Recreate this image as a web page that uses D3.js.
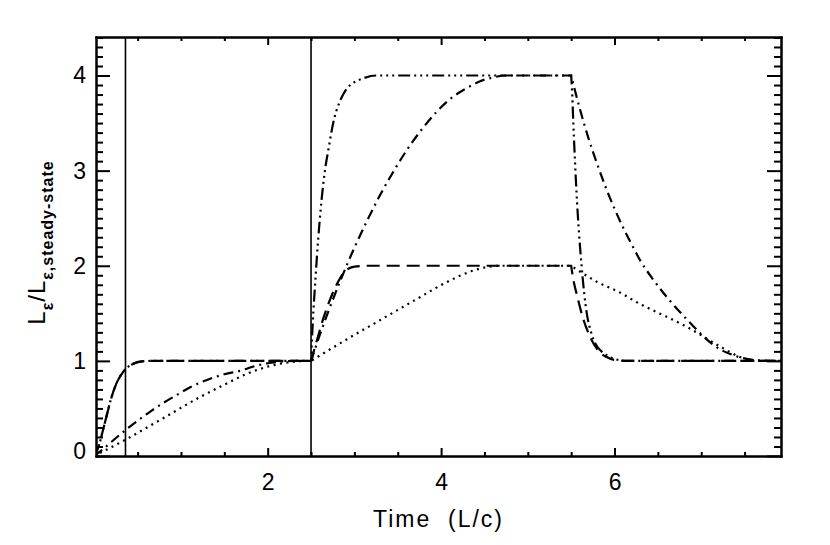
<!DOCTYPE html>
<html>
<head>
<meta charset="utf-8">
<script src="https://cdn.jsdelivr.net/npm/d3@7"></script>
<style>
  body { margin: 0; background: #fff; }
  svg { display: block; }
  .axis path, .axis line { stroke: #000; stroke-width: 2; }
  .axis text { font-family: "Liberation Sans", Arial, sans-serif; font-size: 23px; fill: #000; }
</style>
</head>
<body>
<svg id="chart" width="830" height="545"></svg>
<script>
// ---- data (time in L/c, luminosity ratio) ----
const breaks = [2.5, 5.5];          // times where the injection changes
const markerTimes = [0.36, 2.5];    // vertical reference lines

const xMajorTicks = [2, 4, 6];
const yMajorTicks = [0, 1, 2, 3, 4];

// dashed: fast response, up to 2
const dashedT = [0, 0.05, 0.1, 0.15, 0.2, 0.25, 0.3, 0.357, 0.45, 0.55, 0.7, 2.5,
                 2.5, 2.55, 2.6, 2.65, 2.7, 2.8, 2.9, 3.0, 3.15, 5.5,
                 5.5, 5.52, 5.57, 5.62, 5.72, 5.81, 5.91, 6.0, 6.15, 7.95];
const dashedV = [0, 0.1, 0.27, 0.45, 0.62, 0.75, 0.84, 0.91, 0.97, 0.995, 1, 1,
                 1, 1.16, 1.32, 1.47, 1.6, 1.81, 1.95, 1.99, 2, 2,
                 2, 1.88, 1.68, 1.5, 1.25, 1.11, 1.04, 1.01, 1, 1];

// dash-dot-dot-dot: fast response, up to 4
const dash3dotT = [0, 0.05, 0.1, 0.15, 0.2, 0.25, 0.3, 0.357, 0.45, 0.55, 0.7, 2.5,
                   2.5, 2.52, 2.55, 2.58, 2.62, 2.66, 2.7, 2.76, 2.82, 2.87, 2.93, 3.0, 3.1, 3.25, 5.5,
                   5.5, 5.51, 5.525, 5.56, 5.62, 5.68, 5.73, 5.78, 5.85, 5.91, 6.0, 6.15, 7.95];
const dash3dotV = [0, 0.1, 0.27, 0.45, 0.62, 0.75, 0.84, 0.91, 0.97, 0.995, 1, 1,
                   1, 1.4, 1.85, 2.25, 2.68, 3.0, 3.22, 3.52, 3.7, 3.8, 3.88, 3.93, 3.97, 4, 4,
                   4, 3.85, 3.5, 2.8, 2.0, 1.5, 1.3, 1.18, 1.1, 1.06, 1.02, 1, 1];

// dash-dot: medium response, up to 4
const dashdotT = [0, 0.1, 0.2, 0.357, 0.5, 0.65, 0.8, 0.93, 1.1, 1.3, 1.5, 1.7, 1.85, 2.0, 2.15, 2.3, 2.5,
                  2.5, 2.6, 2.7, 2.85, 3.0, 3.15, 3.3, 3.45, 3.6, 3.8, 3.95, 4.1, 4.3, 4.45, 4.6, 4.75, 5.5,
                  5.5, 5.55, 5.6, 5.7, 5.8, 5.9, 6.0, 6.1, 6.2, 6.3, 6.45, 6.65, 6.83, 7.0, 7.15, 7.37, 7.6, 7.8, 7.95];
const dashdotV = [0, 0.07, 0.15, 0.27, 0.37, 0.47, 0.56, 0.63, 0.72, 0.8, 0.86, 0.9, 0.945, 0.975, 0.993, 1, 1,
                  1, 1.27, 1.52, 1.87, 2.19, 2.48, 2.75, 2.99, 3.21, 3.46, 3.62, 3.75, 3.87, 3.94, 3.98, 4, 4,
                  4, 3.82, 3.65, 3.34, 3.07, 2.82, 2.6, 2.4, 2.22, 2.05, 1.85, 1.62, 1.44, 1.28, 1.16, 1.06, 1.01, 1, 1];

// dotted: slow response, up to 2
const dottedT = [0, 0.357, 0.8, 1.22, 1.5, 1.75, 2.0, 2.2, 2.35, 2.5,
                 2.5, 2.9, 3.3, 3.7, 4.07, 4.37, 4.55, 4.7, 5.5,
                 5.5, 5.6, 5.8, 6.06, 6.29, 6.47, 6.83, 7.22, 7.45, 7.6, 7.75, 7.95];
const dottedV = [0, 0.17, 0.4, 0.62, 0.75, 0.86, 0.94, 0.98, 0.995, 1,
                 1, 1.22, 1.43, 1.64, 1.83, 1.95, 1.99, 2, 2,
                 2, 1.94, 1.83, 1.72, 1.6, 1.52, 1.36, 1.15, 1.04, 1.005, 1, 1];

const series = [
    { t: dottedT,   v: dottedV,   dash: "2,4.5" },
    { t: dashdotT,  v: dashdotV,  dash: "10,5,2,5" },
    { t: dashedT,   v: dashedV,   dash: "13,7" },
    { t: dash3dotT, v: dash3dotV, dash: "12,4,2,4,2,4,2,4" }
];

// ---- layout ----
const margin = { top: 37, right: 49, bottom: 89, left: 96 };
const svg = d3.select("#chart");
const width = +svg.attr("width") - margin.left - margin.right;
const height = +svg.attr("height") - margin.top - margin.bottom;

const x = d3.scaleLinear().domain([0.02, 7.92]).range([0, width]);
const y = d3.scaleLinear().domain([0, 4.405]).range([height, 0]);

const g = svg.append("g").attr("transform", `translate(${margin.left},${margin.top})`);

g.append("clipPath").attr("id", "plot-clip")
    .append("rect").attr("width", width).attr("height", height);

// minor ticks
const xMinor = d3.range(0.5, 8, 0.5).filter(d => !xMajorTicks.includes(d) && d > 0.02 && d < 7.92);
const yMinor = d3.range(0.1, 4.4, 0.1).map(d => +d.toFixed(1)).filter(d => !yMajorTicks.includes(d));

function drawAxis(axis, transform, labels) {
    const a = g.append("g").attr("class", "axis").attr("transform", transform).call(axis);
    if (!labels) a.selectAll("text").remove();
    return a;
}

drawAxis(d3.axisBottom(x).tickValues(xMinor).tickSize(-4).tickSizeOuter(0).tickFormat(""), `translate(0,${height})`);
drawAxis(d3.axisTop(x).tickValues(xMinor).tickSize(-4).tickSizeOuter(0).tickFormat(""), "translate(0,0)");
drawAxis(d3.axisLeft(y).tickValues(yMinor).tickSize(-7).tickSizeOuter(0).tickFormat(""), "translate(0,0)");
drawAxis(d3.axisRight(y).tickValues(yMinor).tickSize(-7).tickSizeOuter(0).tickFormat(""), `translate(${width},0)`);

drawAxis(d3.axisBottom(x).tickValues(xMajorTicks).tickSize(-8).tickSizeOuter(0).tickPadding(18).tickFormat(d3.format("d")),
    `translate(0,${height})`, true);
drawAxis(d3.axisTop(x).tickValues(xMajorTicks).tickSize(-8).tickSizeOuter(0).tickFormat(""), "translate(0,0)");
const yAxisG = drawAxis(d3.axisLeft(y).tickValues(yMajorTicks).tickSize(-14).tickSizeOuter(0).tickPadding(10).tickFormat(d3.format("d")),
    "translate(0,0)", true);
drawAxis(d3.axisRight(y).tickValues(yMajorTicks).tickSize(-14).tickSizeOuter(0).tickFormat(""), `translate(${width},0)`);

// the "0" label sits a little above its tick, clear of the x axis
yAxisG.selectAll(".tick").filter(d => d === 0).select("text").attr("y", -5);

g.selectAll(".axis .domain").attr("stroke-linecap", "square");

// vertical reference lines
g.selectAll("line.marker")
    .data(markerTimes)
    .enter().append("line")
    .attr("class", "marker")
    .attr("x1", d => x(d)).attr("x2", d => x(d))
    .attr("y1", 0).attr("y2", height)
    .attr("stroke", "#000")
    .attr("stroke-width", 1.6);

// curves: smooth within each phase, sharp corners at the breaks
const line = d3.line()
    .x(d => x(d[0]))
    .y(d => y(d[1]))
    .curve(d3.curveMonotoneX);

function buildPath(ts, vs) {
    const pts = ts.map((t, i) => [t, vs[i]]);
    const edges = [-Infinity, ...breaks, Infinity];
    let path = "";
    for (let k = 0; k < edges.length - 1; k++) {
        const seg = [];
        pts.forEach(p => {
            if (p[0] >= edges[k] && p[0] <= edges[k + 1]) {
                // skip duplicated break point belonging to neighbouring phase
                if (seg.length && seg[seg.length - 1][0] === p[0]) return;
                seg.push(p);
            }
        });
        const d = line(seg);
        path += path ? d.replace(/^M/, "L") : d;
    }
    return path;
}

g.append("g").attr("clip-path", "url(#plot-clip)")
    .selectAll("path.curve")
    .data(series)
    .enter().append("path")
    .attr("class", "curve")
    .attr("d", s => buildPath(s.t, s.v))
    .attr("fill", "none")
    .attr("stroke", "#000")
    .attr("stroke-width", 2.2)
    .attr("stroke-dasharray", s => s.dash);

// axis titles
svg.append("text")
    .attr("x", margin.left + width / 2)
    .attr("y", 527)
    .attr("text-anchor", "middle")
    .style("font-family", "Liberation Sans, Arial, sans-serif")
    .style("font-size", "23px")
    .style("letter-spacing", "2px")
    .attr("xml:space", "preserve")
    .text("Time  (L/c)");

const ylab = svg.append("text")
    .attr("transform", `translate(45,${margin.top + height / 2 - 4}) rotate(-90)`)
    .attr("text-anchor", "middle")
    .style("font-family", "Liberation Sans, Arial, sans-serif")
    .style("font-size", "24px")
    .style("letter-spacing", "1px");
ylab.append("tspan").text("L");
ylab.append("tspan").attr("dy", 8).style("font-size", "16px").style("font-weight", "bold").text("\u03b5");
ylab.append("tspan").attr("dy", -8).text("/L");
ylab.append("tspan").attr("dy", 8).style("font-size", "16px").style("font-weight", "bold").text("\u03b5,steady-state");
</script>
</body>
</html>
